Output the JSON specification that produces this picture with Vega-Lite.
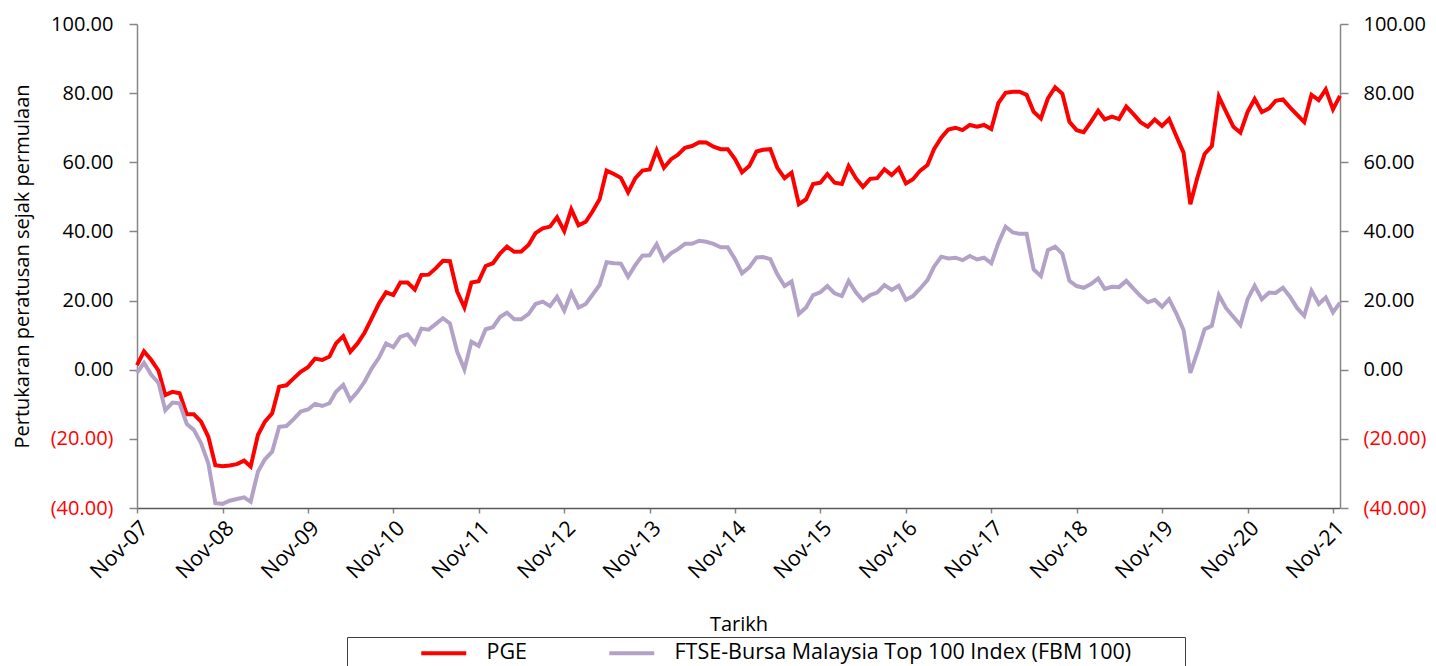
{
  "$schema": "https://vega.github.io/schema/vega-lite/v6.json",
  "width": 1203,
  "height": 484,
  "autosize": {"type": "none"},
  "padding": {"left": 137, "top": 24, "right": 96, "bottom": 158},
  "background": "white",
  "config": {
    "view": {"stroke": null},
    "font": "Open Sans",
    "axis": {"grid": false, "labelFont": "Open Sans", "titleFont": "Open Sans", "labelFontSize": 20, "titleFontSize": 20, "titleFontWeight": "normal", "labelColor": "black", "titleColor": "black", "domainColor": "#868686", "tickColor": "#868686", "domainWidth": 1.5, "tickWidth": 1.5}
  },
  "data": {"values": [
    {"d":"2007-11-01","PGE":1.3,"FBM":-0.9},{"d":"2007-12-01","PGE":5.3,"FBM":2.0},
    {"d":"2008-01-01","PGE":2.8,"FBM":-1.5},{"d":"2008-02-01","PGE":-0.3,"FBM":-3.8},{"d":"2008-03-01","PGE":-7.3,"FBM":-11.7},{"d":"2008-04-01","PGE":-6.4,"FBM":-9.5},{"d":"2008-05-01","PGE":-6.8,"FBM":-9.7},{"d":"2008-06-01","PGE":-12.9,"FBM":-15.7},{"d":"2008-07-01","PGE":-12.9,"FBM":-17.4},{"d":"2008-08-01","PGE":-15.0,"FBM":-21.3},{"d":"2008-09-01","PGE":-19.4,"FBM":-27.1},{"d":"2008-10-01","PGE":-27.6,"FBM":-38.6},{"d":"2008-11-01","PGE":-27.9,"FBM":-38.8},{"d":"2008-12-01","PGE":-27.7,"FBM":-37.9},
    {"d":"2009-01-01","PGE":-27.3,"FBM":-37.4},{"d":"2009-02-01","PGE":-26.3,"FBM":-36.9},{"d":"2009-03-01","PGE":-28.0,"FBM":-38.2},{"d":"2009-04-01","PGE":-18.9,"FBM":-29.5},{"d":"2009-05-01","PGE":-15.0,"FBM":-25.9},{"d":"2009-06-01","PGE":-12.6,"FBM":-23.7},{"d":"2009-07-01","PGE":-4.9,"FBM":-16.5},{"d":"2009-08-01","PGE":-4.5,"FBM":-16.3},{"d":"2009-09-01","PGE":-2.5,"FBM":-14.3},{"d":"2009-10-01","PGE":-0.6,"FBM":-12.1},{"d":"2009-11-01","PGE":0.7,"FBM":-11.5},{"d":"2009-12-01","PGE":3.2,"FBM":-9.9},
    {"d":"2010-01-01","PGE":2.8,"FBM":-10.5},{"d":"2010-02-01","PGE":3.8,"FBM":-9.7},{"d":"2010-03-01","PGE":7.6,"FBM":-6.4},{"d":"2010-04-01","PGE":9.7,"FBM":-4.4},{"d":"2010-05-01","PGE":5.2,"FBM":-8.8},{"d":"2010-06-01","PGE":7.6,"FBM":-6.4},{"d":"2010-07-01","PGE":10.7,"FBM":-3.5},{"d":"2010-08-01","PGE":14.9,"FBM":0.4},{"d":"2010-09-01","PGE":19.2,"FBM":3.5},{"d":"2010-10-01","PGE":22.4,"FBM":7.6},{"d":"2010-11-01","PGE":21.6,"FBM":6.5},{"d":"2010-12-01","PGE":25.2,"FBM":9.5},
    {"d":"2011-01-01","PGE":25.2,"FBM":10.2},{"d":"2011-02-01","PGE":23.2,"FBM":7.6},{"d":"2011-03-01","PGE":27.4,"FBM":11.9},{"d":"2011-04-01","PGE":27.5,"FBM":11.6},{"d":"2011-05-01","PGE":29.3,"FBM":13.2},{"d":"2011-06-01","PGE":31.5,"FBM":14.9},{"d":"2011-07-01","PGE":31.4,"FBM":13.4},{"d":"2011-08-01","PGE":22.6,"FBM":5.2},{"d":"2011-09-01","PGE":18.0,"FBM":0.1},{"d":"2011-10-01","PGE":25.2,"FBM":8.1},{"d":"2011-11-01","PGE":25.6,"FBM":6.9},{"d":"2011-12-01","PGE":30.0,"FBM":11.7},
    {"d":"2012-01-01","PGE":30.8,"FBM":12.3},{"d":"2012-02-01","PGE":33.7,"FBM":15.3},{"d":"2012-03-01","PGE":35.6,"FBM":16.5},{"d":"2012-04-01","PGE":34.1,"FBM":14.6},{"d":"2012-05-01","PGE":34.2,"FBM":14.6},{"d":"2012-06-01","PGE":36.1,"FBM":16.1},{"d":"2012-07-01","PGE":39.5,"FBM":19.0},{"d":"2012-08-01","PGE":40.9,"FBM":19.7},{"d":"2012-09-01","PGE":41.4,"FBM":18.4},{"d":"2012-10-01","PGE":44.1,"FBM":21.1},{"d":"2012-11-01","PGE":40.1,"FBM":17.1},{"d":"2012-12-01","PGE":46.4,"FBM":22.3},
    {"d":"2013-01-01","PGE":41.8,"FBM":18.0},{"d":"2013-02-01","PGE":42.8,"FBM":19.0},{"d":"2013-03-01","PGE":45.7,"FBM":21.6},{"d":"2013-04-01","PGE":49.3,"FBM":24.5},{"d":"2013-05-01","PGE":57.6,"FBM":31.1},{"d":"2013-06-01","PGE":56.6,"FBM":30.8},{"d":"2013-07-01","PGE":55.5,"FBM":30.7},{"d":"2013-08-01","PGE":51.3,"FBM":26.9},{"d":"2013-09-01","PGE":55.4,"FBM":30.3},{"d":"2013-10-01","PGE":57.6,"FBM":33.0},{"d":"2013-11-01","PGE":57.9,"FBM":33.1},{"d":"2013-12-01","PGE":63.4,"FBM":36.3},
    {"d":"2014-01-01","PGE":58.4,"FBM":31.7},{"d":"2014-02-01","PGE":60.9,"FBM":33.7},{"d":"2014-03-01","PGE":62.1,"FBM":34.8},{"d":"2014-04-01","PGE":64.2,"FBM":36.4},{"d":"2014-05-01","PGE":64.7,"FBM":36.4},{"d":"2014-06-01","PGE":65.8,"FBM":37.3},{"d":"2014-07-01","PGE":65.7,"FBM":37.0},{"d":"2014-08-01","PGE":64.5,"FBM":36.4},{"d":"2014-09-01","PGE":63.8,"FBM":35.4},{"d":"2014-10-01","PGE":63.8,"FBM":35.4},{"d":"2014-11-01","PGE":60.9,"FBM":32.0},{"d":"2014-12-01","PGE":57.1,"FBM":27.9},
    {"d":"2015-01-01","PGE":58.9,"FBM":29.6},{"d":"2015-02-01","PGE":63.1,"FBM":32.5},{"d":"2015-03-01","PGE":63.6,"FBM":32.6},{"d":"2015-04-01","PGE":63.8,"FBM":32.0},{"d":"2015-05-01","PGE":58.4,"FBM":27.6},{"d":"2015-06-01","PGE":55.4,"FBM":24.2},{"d":"2015-07-01","PGE":57.0,"FBM":25.5},{"d":"2015-08-01","PGE":47.9,"FBM":16.1},{"d":"2015-09-01","PGE":49.3,"FBM":18.0},{"d":"2015-10-01","PGE":53.7,"FBM":21.6},{"d":"2015-11-01","PGE":54.1,"FBM":22.4},{"d":"2015-12-01","PGE":56.6,"FBM":24.2},
    {"d":"2016-01-01","PGE":54.1,"FBM":22.1},{"d":"2016-02-01","PGE":53.7,"FBM":21.3},{"d":"2016-03-01","PGE":58.9,"FBM":25.7},{"d":"2016-04-01","PGE":55.4,"FBM":22.4},{"d":"2016-05-01","PGE":52.9,"FBM":20.0},{"d":"2016-06-01","PGE":55.2,"FBM":21.6},{"d":"2016-07-01","PGE":55.4,"FBM":22.3},{"d":"2016-08-01","PGE":58.0,"FBM":24.5},{"d":"2016-09-01","PGE":56.3,"FBM":23.1},{"d":"2016-10-01","PGE":58.3,"FBM":24.3},{"d":"2016-11-01","PGE":53.9,"FBM":20.2},{"d":"2016-12-01","PGE":55.1,"FBM":21.3},
    {"d":"2017-01-01","PGE":57.6,"FBM":23.5},{"d":"2017-02-01","PGE":59.2,"FBM":25.9},{"d":"2017-03-01","PGE":63.8,"FBM":29.8},{"d":"2017-04-01","PGE":67.1,"FBM":32.7},{"d":"2017-05-01","PGE":69.5,"FBM":32.2},{"d":"2017-06-01","PGE":70.0,"FBM":32.4},{"d":"2017-07-01","PGE":69.3,"FBM":31.7},{"d":"2017-08-01","PGE":70.8,"FBM":32.9},{"d":"2017-09-01","PGE":70.3,"FBM":31.9},{"d":"2017-10-01","PGE":70.8,"FBM":32.4},{"d":"2017-11-01","PGE":69.6,"FBM":30.8},{"d":"2017-12-01","PGE":77.1,"FBM":36.6},
    {"d":"2018-01-01","PGE":80.1,"FBM":41.4},{"d":"2018-02-01","PGE":80.4,"FBM":39.7},{"d":"2018-03-01","PGE":80.4,"FBM":39.3},{"d":"2018-04-01","PGE":79.5,"FBM":39.3},{"d":"2018-05-01","PGE":74.6,"FBM":29.0},{"d":"2018-06-01","PGE":72.7,"FBM":27.1},{"d":"2018-07-01","PGE":78.5,"FBM":34.6},{"d":"2018-08-01","PGE":81.7,"FBM":35.6},{"d":"2018-09-01","PGE":79.8,"FBM":33.5},{"d":"2018-10-01","PGE":71.7,"FBM":25.7},{"d":"2018-11-01","PGE":69.3,"FBM":24.2},{"d":"2018-12-01","PGE":68.7,"FBM":23.7},
    {"d":"2019-01-01","PGE":71.7,"FBM":24.8},{"d":"2019-02-01","PGE":74.9,"FBM":26.4},{"d":"2019-03-01","PGE":72.4,"FBM":23.4},{"d":"2019-04-01","PGE":73.2,"FBM":24.0},{"d":"2019-05-01","PGE":72.5,"FBM":23.9},{"d":"2019-06-01","PGE":76.1,"FBM":25.7},{"d":"2019-07-01","PGE":74.0,"FBM":23.5},{"d":"2019-08-01","PGE":71.6,"FBM":21.3},{"d":"2019-09-01","PGE":70.3,"FBM":19.5},{"d":"2019-10-01","PGE":72.4,"FBM":20.2},{"d":"2019-11-01","PGE":70.5,"FBM":18.2},{"d":"2019-12-01","PGE":72.5,"FBM":20.4},
    {"d":"2020-01-01","PGE":67.6,"FBM":16.3},{"d":"2020-02-01","PGE":62.8,"FBM":11.5},{"d":"2020-03-01","PGE":47.9,"FBM":-0.9},{"d":"2020-04-01","PGE":55.8,"FBM":5.2},{"d":"2020-05-01","PGE":62.4,"FBM":11.7},{"d":"2020-06-01","PGE":64.7,"FBM":12.7},{"d":"2020-07-01","PGE":79.0,"FBM":21.6},{"d":"2020-08-01","PGE":74.6,"FBM":17.8},{"d":"2020-09-01","PGE":70.3,"FBM":15.3},{"d":"2020-10-01","PGE":68.6,"FBM":12.9},{"d":"2020-11-01","PGE":74.6,"FBM":20.4},{"d":"2020-12-01","PGE":78.3,"FBM":24.3},
    {"d":"2021-01-01","PGE":74.5,"FBM":20.4},{"d":"2021-02-01","PGE":75.6,"FBM":22.3},{"d":"2021-03-01","PGE":77.8,"FBM":22.2},{"d":"2021-04-01","PGE":78.2,"FBM":23.7},{"d":"2021-05-01","PGE":75.9,"FBM":21.1},{"d":"2021-06-01","PGE":73.7,"FBM":17.8},{"d":"2021-07-01","PGE":71.6,"FBM":15.6},{"d":"2021-08-01","PGE":79.5,"FBM":22.8},{"d":"2021-09-01","PGE":78.0,"FBM":19.0},{"d":"2021-10-01","PGE":81.1,"FBM":20.9},{"d":"2021-11-01","PGE":75.3,"FBM":16.6},{"d":"2021-12-01","PGE":79.2,"FBM":19.4}
  ]},
  "transform": [{"fold": ["PGE", "FBM"], "as": ["series", "value"]}],
  "encoding": {
    "x": {
      "field": "d", "type": "temporal",
      "scale": {"type": "utc", "domain": [{"year": 2007, "month": 11, "date": 1, "utc": true}, {"year": 2021, "month": 12, "date": 1, "utc": true}], "nice": false},
      "axis": {
        "title": "Tarikh", "format": "%b-%y", "labelAngle": -45, "labelFontSize": 21.5, "tickSize": 5, "domainColor": "#595959", "labelPadding": 4, "titlePadding": 32, "titleColor": "black",
        "values": [
          {"year": 2007, "month": 11, "date": 1, "utc": true}, {"year": 2008, "month": 11, "date": 1, "utc": true}, {"year": 2009, "month": 11, "date": 1, "utc": true}, {"year": 2010, "month": 11, "date": 1, "utc": true}, {"year": 2011, "month": 11, "date": 1, "utc": true}, {"year": 2012, "month": 11, "date": 1, "utc": true}, {"year": 2013, "month": 11, "date": 1, "utc": true}, {"year": 2014, "month": 11, "date": 1, "utc": true}, {"year": 2015, "month": 11, "date": 1, "utc": true}, {"year": 2016, "month": 11, "date": 1, "utc": true}, {"year": 2017, "month": 11, "date": 1, "utc": true}, {"year": 2018, "month": 11, "date": 1, "utc": true}, {"year": 2019, "month": 11, "date": 1, "utc": true}, {"year": 2020, "month": 11, "date": 1, "utc": true}, {"year": 2021, "month": 11, "date": 1, "utc": true}
        ]
      }
    },
    "color": {
      "field": "series", "type": "nominal",
      "scale": {"domain": ["PGE", "FBM"], "range": ["#FF0000", "#B3A2C7"]},
      "legend": {
        "orient": "none", "legendX": 210, "legendY": 613, "direction": "horizontal",
        "title": "\u00a0", "titleOrient": "left", "titlePadding": 66, "titleFontSize": 20,
        "strokeColor": "#404040", "padding": 5,
        "symbolType": "M-1,0H5", "symbolStrokeWidth": 4, "symbolSize": 225,
        "labelFont": "Open Sans", "labelFontSize": 21.5, "labelColor": "black", "labelOffset": 47, "labelLimit": 900,
        "columnPadding": 73,
        "labelExpr": "datum.label == 'FBM' ? 'FTSE-Bursa Malaysia Top 100 Index (FBM 100)\u2800\u2800\u2800' : datum.label"
      }
    }
  },
  "layer": [
    {
      "transform": [{"filter": "datum.series == 'PGE'"}],
      "mark": {"type": "line", "strokeWidth": 4},
      "encoding": {
        "y": {
          "field": "value", "type": "quantitative",
          "scale": {"domain": [-40, 100], "nice": false, "zero": false},
          "axis": {
            "orient": "left", "title": "Pertukaran peratusan sejak permulaan", "titleColor": "black", "values": [-40, -20, 0, 20, 40, 60, 80, 100],
            "tickSize": 8, "labelPadding": 16, "titlePadding": 18,
            "labelExpr": "datum.value < 0 ? '(' + format(-datum.value, '.2f') + ')' : format(datum.value, '.2f') + '\u00a0'",
            "labelColor": {"condition": {"test": "datum.value < 0", "value": "#FF0000"}, "value": "black"}
          }
        }
      }
    },
    {
      "transform": [{"filter": "datum.series == 'FBM'"}],
      "mark": {"type": "line", "strokeWidth": 4},
      "encoding": {
        "y": {
          "field": "value", "type": "quantitative",
          "scale": {"domain": [-40, 100], "nice": false, "zero": false},
          "axis": {
            "orient": "right", "title": null, "values": [-40, -20, 0, 20, 40, 60, 80, 100],
            "tickSize": 8, "labelPadding": 15,
            "labelExpr": "datum.value < 0 ? '(' + format(-datum.value, '.2f') + ')' : format(datum.value, '.2f')",
            "labelColor": {"condition": {"test": "datum.value < 0", "value": "#FF0000"}, "value": "black"}
          }
        }
      }
    }
  ],
  "resolve": {"scale": {"y": "independent"}}
}
